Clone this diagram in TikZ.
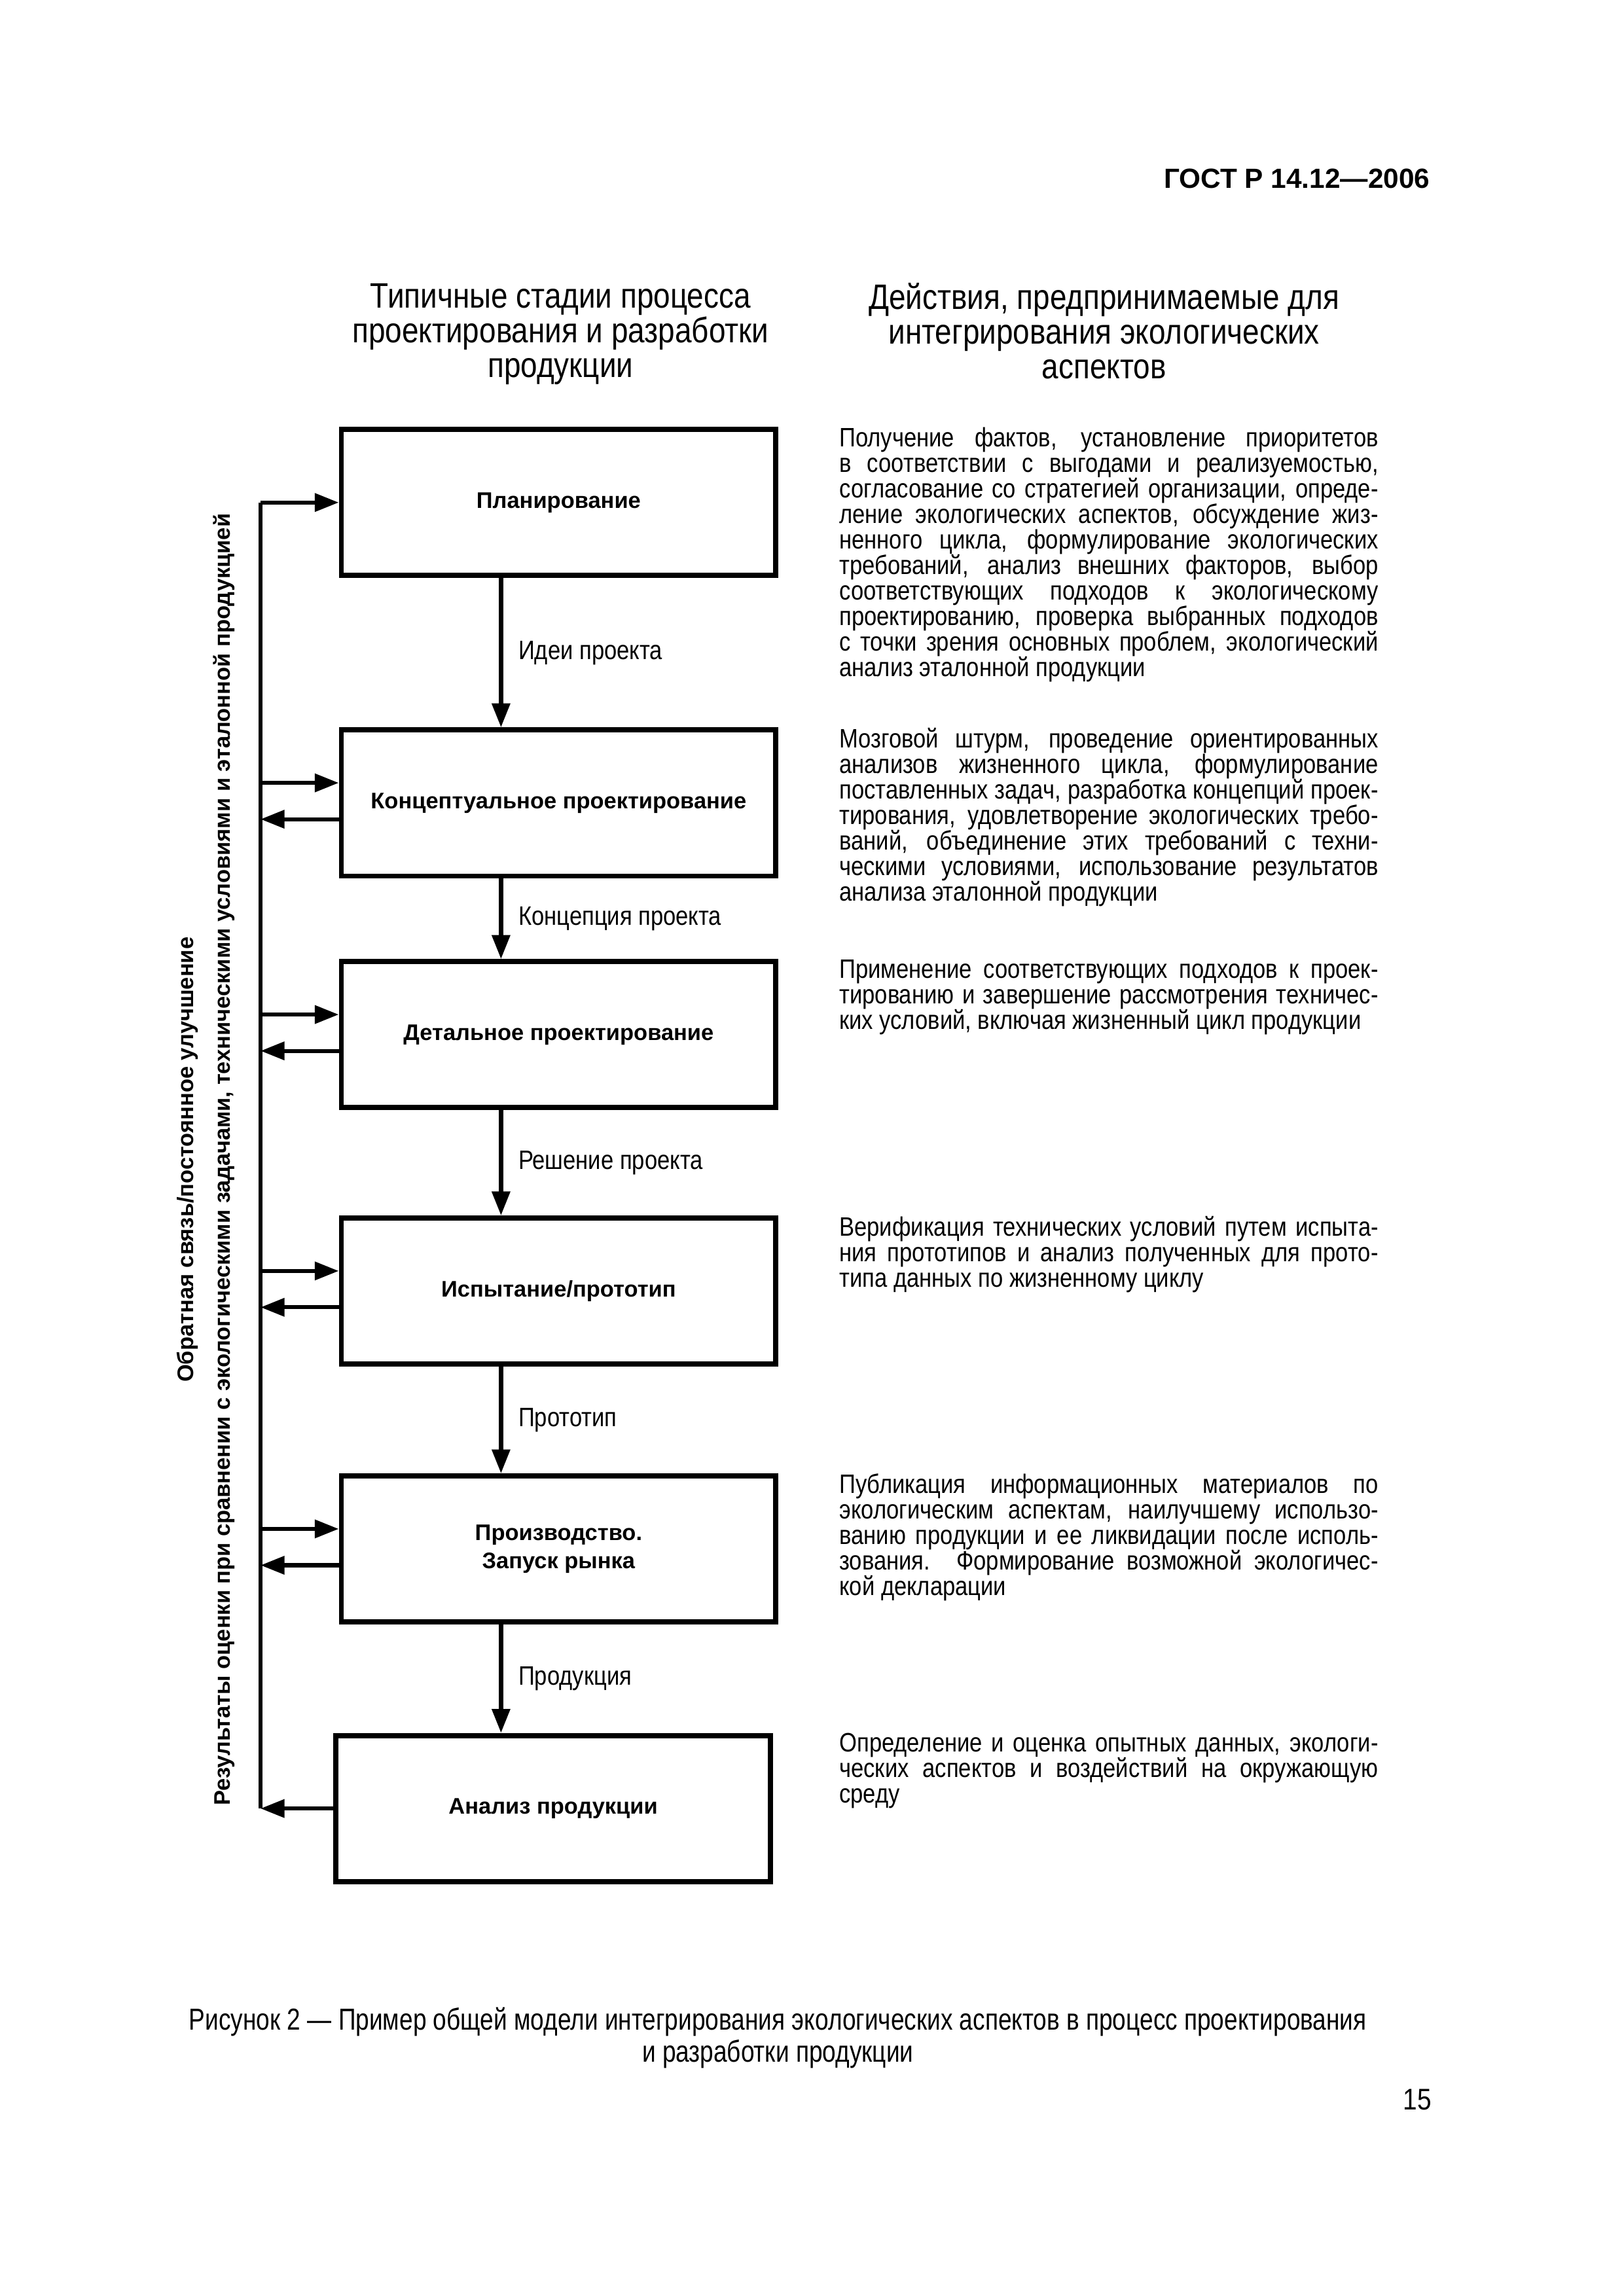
\documentclass[tikz,border=0pt]{standalone}
\usepackage{fontspec}
\setmainfont{Liberation Sans}
\newfontfamily\narrowfont[FakeStretch=0.85]{Liberation Sans}
\newfontfamily\capfont[FakeStretch=0.8]{Liberation Sans}
\usetikzlibrary{arrows.meta, positioning}

\begin{document}
\begin{tikzpicture}[
    every node/.style={inner sep=0pt},
    stage/.style={draw, line width=1.9pt, minimum width=56.2mm, minimum height=18.9mm,
                  align=center, font=\bfseries\fontsize{8.3}{10.3}\selectfont},
    note/.style={anchor=north west, text width=69.7mm, align=justify,
                 font=\narrowfont\fontsize{9.8}{9.4}\selectfont},
    head/.style={align=center, font=\narrowfont\fontsize{13}{12.8}\selectfont},
    flow/.style={font=\narrowfont\fontsize{9.8}{11}\selectfont},
    arr/.style={-{Triangle[length=3.1mm, width=2.3mm]}, line width=1.5pt},
    spine/.style={line width=1.5pt}
  ]
  \useasboundingbox (0,0) rectangle (210mm,-297mm);

  % --- page header and column heads ---
  \node[anchor=east, font=\bfseries\fontsize{10.2}{12}\selectfont] (gost) at (185mm,-23.1mm) {ГОСТ Р 14.12—2006};
  \node[head] (lhead) at (72.5mm,-43.2mm) {Типичные стадии процесса\\проектирования и разработки\\продукции};
  \node[head] (rhead) at (142.8mm,-42.8mm) {Действия, предпринимаемые для\\интегрирования экологических\\аспектов};

  % --- stages (stacked) ---
  \node[stage] (plan) at (72.25mm,-65mm) {Планирование};
  \node[stage, below=19.3mm of plan] (concept) {Концептуальное проектирование};
  \node[stage, below=10.4mm of concept] (detail) {Детальное проектирование};
  \node[stage, below=13.6mm of detail] (test) {Испытание/прототип};
  \node[stage, below=13.8mm of test] (prod) {Производство.\\Запуск рынка};
  \node[stage, below=14mm of prod, xshift=-0.7mm] (anal) {Анализ продукции};

  \coordinate (fb) at (33.7mm,0);
  \coordinate (ax) at (64.8mm,0);
  \coordinate (nx) at (108.5mm,0);

  % --- main flow ---
  \draw[arr] (plan.south -| ax) -- node[flow, midway, right=2mm] {Идеи проекта} (concept.north -| ax);
  \draw[arr] (concept.south -| ax) -- node[flow, midway, right=2mm] {Концепция проекта} (detail.north -| ax);
  \draw[arr] (detail.south -| ax) -- node[flow, midway, right=2mm] {Решение проекта} (test.north -| ax);
  \draw[arr] (test.south -| ax) -- node[flow, midway, right=2mm] {Прототип} (prod.north -| ax);
  \draw[arr] (prod.south -| ax) -- node[flow, midway, right=2mm] {Продукция} (anal.north -| ax);

  % --- feedback loop ---
  \draw[spine] (plan.west -| fb) -- (anal.west -| fb);
  \draw[arr] (plan.west -| fb) -- (plan.west);
  \foreach \s in {concept, detail, test, prod} {
    \path (\s.west) ++(0,2.6mm) coordinate (in);
    \path (\s.west) ++(0,-2.1mm) coordinate (out);
    \draw[arr] (in -| fb) -- (in);
    \draw[arr] (out) -- (out -| fb);
  }
  \draw[arr] (anal.west) -- (anal.west -| fb);

  \node[rotate=90, align=center, font=\bfseries\fontsize{8.3}{13.4}\selectfont] (fbnote) at (26.6mm,-150mm)
    {Обратная связь/постоянное улучшение\\Результаты оценки при сравнении с экологическими задачами, техническими условиями и эталонной продукцией};

  % --- actions column ---
  \node[note] (n1) at (plan.north -| nx) {Получение фактов, установление приоритетов\linebreak
    в соответствии с выгодами и реализуемостью,\linebreak
    согласование со стратегией организации, опреде-\linebreak
    ление экологических аспектов, обсуждение жиз-\linebreak
    ненного цикла, формулирование экологических\linebreak
    требований, анализ внешних факторов, выбор\linebreak
    соответствующих подходов к экологическому\linebreak
    проектированию, проверка выбранных подходов\linebreak
    с точки зрения основных проблем, экологический\linebreak
    анализ эталонной продукции};
  \node[note] (n2) at (concept.north -| nx) {Мозговой штурм, проведение ориентированных\linebreak
    анализов жизненного цикла, формулирование\linebreak
    поставленных задач, разработка концепций проек-\linebreak
    тирования, удовлетворение экологических требо-\linebreak
    ваний, объединение этих требований с техни-\linebreak
    ческими условиями, использование результатов\linebreak
    анализа эталонной продукции};
  \node[note] (n3) at (detail.north -| nx) {Применение соответствующих подходов к проек-\linebreak
    тированию и завершение рассмотрения техничес-\linebreak
    ких условий, включая жизненный цикл продукции};
  \node[note] (n4) at (test.north -| nx) {Верификация технических условий путем испыта-\linebreak
    ния прототипов и анализ полученных для прото-\linebreak
    типа данных по жизненному циклу};
  \node[note] (n5) at (prod.north -| nx) {Публикация информационных материалов по\linebreak
    экологическим аспектам, наилучшему использо-\linebreak
    ванию продукции и ее ликвидации после исполь-\linebreak
    зования. Формирование возможной экологичес-\linebreak
    кой декларации};
  \node[note] (n6) at (anal.north -| nx) {Определение и оценка опытных данных, экологи-\linebreak
    ческих аспектов и воздействий на окружающую\linebreak
    среду};

  % --- caption ---
  \node[align=center, font=\capfont\fontsize{11.15}{11.8}\selectfont] (cap) at (100.6mm,-263.6mm)
    {Рисунок 2 — Пример общей модели интегрирования экологических аспектов в процесс проектирования\\и разработки продукции};
  \node[font=\narrowfont\fontsize{11}{13}\selectfont] (page) at (183.3mm,-271.6mm) {15};
\end{tikzpicture}
\end{document}
